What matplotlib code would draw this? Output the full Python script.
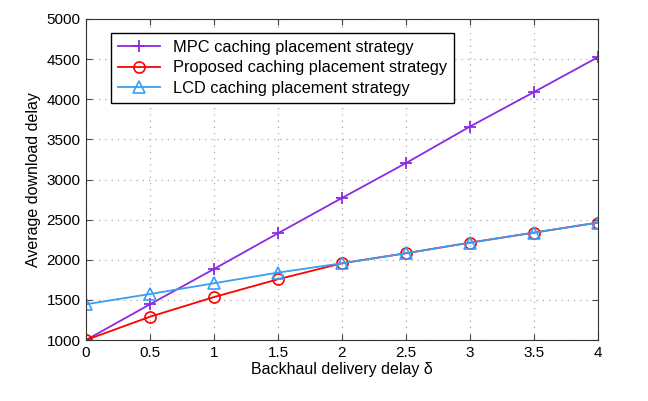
import matplotlib
matplotlib.use("Agg")
import matplotlib.pyplot as plt
import numpy as np

plt.rcParams['font.family'] = ['Liberation Sans', 'DejaVu Sans']

# backhaul delay values and the three strategies
delta = np.array([0, 0.5, 1, 1.5, 2, 2.5, 3, 3.5, 4])
mpc = np.array([1000, 1445, 1885, 2330, 2770, 3205, 3660, 4090, 4525])
proposed = np.array([1000, 1290, 1535, 1757, 1956, 2081, 2213, 2338, 2463])
lcd = np.array([1445, 1573, 1707, 1840, 1956, 2081, 2213, 2338, 2463])

xticks = [0, 0.5, 1, 1.5, 2, 2.5, 3, 3.5, 4]
xticklabels = ['0', '0.5', '1', '1.5', '2', '2.5', '3', '3.5', '4']
yticks = [1000, 1500, 2000, 2500, 3000, 3500, 4000, 4500, 5000]

fig = plt.figure(figsize=(6.48, 4.01), dpi=100)
ax = fig.add_axes([86/648, 1 - 340/401, 512/648, 321/401])

ax.plot(delta, mpc, color='#8a2be2', marker='+', markersize=9, mew=1.3, lw=1.3,
        label='MPC caching placement strategy')
ax.plot(delta, proposed, color='#ff0000', marker='o', markersize=8, mfc='none', mew=1.2, lw=1.3,
        label='Proposed caching placement strategy')
ax.plot(delta, lcd, color='#3a9ef5', marker='^', markersize=8, mfc='none', mew=1.2, lw=1.3,
        label='LCD caching placement strategy')

ax.set_xlim(0, 4)
ax.set_ylim(1000, 5000)
ax.set_xticks(xticks)
ax.set_xticklabels(xticklabels)
ax.set_yticks(yticks)
ax.tick_params(direction='in', top=True, right=True, labelsize=11, length=4, color='#444444', pad=4)
ax.grid(True, linestyle=(0, (1, 4)), color='#aaaaaa', linewidth=0.9)
for s in ax.spines.values():
    s.set_color('#333333')

ax.set_xlabel('Backhaul delivery delay δ', fontsize=11.5, labelpad=2)
ax.set_ylabel('Average download delay', fontsize=11.5, labelpad=4)

leg = ax.legend(loc='upper left', bbox_to_anchor=(25/512, 1 - 14/321), fontsize=11.8,
                fancybox=False, edgecolor='black', framealpha=1, borderpad=0.4,
                labelspacing=0.35, handlelength=2.6, borderaxespad=0)
leg.get_frame().set_linewidth(1.0)

fig.savefig('out.png', dpi=100)
